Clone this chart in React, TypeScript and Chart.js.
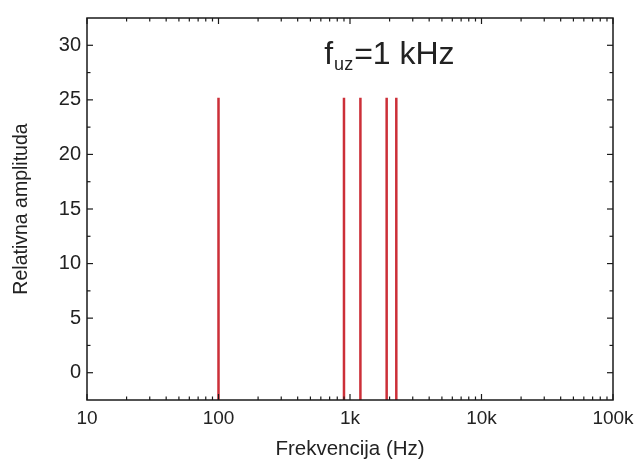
import React, { useEffect, useRef } from "react";
import { Chart, registerables } from "chart.js";

Chart.register(...registerables);

const frequencies = [100, 900, 1200, 1900, 2250];
const amplitudes = [25.2, 25.2, 25.2, 25.2, 25.2];
const baseline = -2.5;
const xTickValues = [10, 100, 1000, 10000, 100000];
const xTickLabels = ["10", "100", "1k", "10k", "100k"];
const yTickValues = [0, 5, 10, 15, 20, 25, 30];
const yMinorValues = [2.5, 7.5, 12.5, 17.5, 22.5, 27.5];
const xMinorMultipliers = [2, 3, 4, 5, 6, 7, 8, 9];
const annotationMain = "f";
const annotationSub = "uz";
const annotationRest = "=1 kHz";

const FONT = "'Liberation Sans', Arial, sans-serif";
const TEXT = "#222222";

const framePlugin = {
  id: "frame",
  afterDatasetsDraw(chart: any) {
    const { ctx, chartArea, scales } = chart;
    const { left, right, top, bottom } = chartArea;
    const x = scales.x;
    const y = scales.y;
    ctx.save();
    ctx.strokeStyle = "#1a1a1a";
    ctx.lineWidth = 1.5;
    ctx.strokeRect(left, top, right - left, bottom - top);
    ctx.lineWidth = 1.2;
    const tick = (x1: number, y1: number, x2: number, y2: number) => {
      ctx.beginPath();
      ctx.moveTo(x1, y1);
      ctx.lineTo(x2, y2);
      ctx.stroke();
    };
    const majorLen = 6;
    const minorLen = 3.5;
    xTickValues.forEach((v) => {
      const px = x.getPixelForValue(v);
      tick(px, bottom, px, bottom - majorLen);
      tick(px, top, px, top + majorLen);
    });
    for (let i = 0; i < xTickValues.length - 1; i++) {
      xMinorMultipliers.forEach((m) => {
        const px = x.getPixelForValue(xTickValues[i] * m);
        tick(px, bottom, px, bottom - minorLen);
        tick(px, top, px, top + minorLen);
      });
    }
    yTickValues.forEach((v) => {
      const py = y.getPixelForValue(v);
      tick(left, py, left + majorLen, py);
      tick(right, py, right - majorLen, py);
    });
    yMinorValues.forEach((v) => {
      const py = y.getPixelForValue(v);
      tick(left, py, left + minorLen, py);
      tick(right, py, right - minorLen, py);
    });

    // annotation
    ctx.fillStyle = TEXT;
    ctx.textBaseline = "alphabetic";
    ctx.textAlign = "left";
    let ax = left + (right - left) * 0.451;
    const ay = top + 46;
    ctx.font = `32px ${FONT}`;
    ctx.fillText(annotationMain, ax, ay);
    ax += ctx.measureText(annotationMain).width + 1;
    ctx.font = `18px ${FONT}`;
    ctx.fillText(annotationSub, ax, ay + 6);
    ax += ctx.measureText(annotationSub).width + 1;
    ctx.font = `32px ${FONT}`;
    ctx.fillText(annotationRest, ax, ay);
    ctx.restore();
  },
};

export default function App() {
  const canvasRef = useRef<HTMLCanvasElement | null>(null);

  useEffect(() => {
    if (!canvasRef.current) return;
    const points: any[] = [];
    frequencies.forEach((f, i) => {
      points.push({ x: f, y: baseline });
      points.push({ x: f, y: amplitudes[i] });
      points.push({ x: f, y: null });
    });

    const chart = new Chart(canvasRef.current, {
      type: "scatter",
      data: {
        datasets: [
          {
            data: points,
            showLine: true,
            spanGaps: false,
            borderColor: "#cc2f38",
            borderWidth: 2.5,
            pointRadius: 0,
            pointHoverRadius: 0,
          },
        ],
      },
      plugins: [framePlugin],
      options: {
        animation: false,
        responsive: true,
        maintainAspectRatio: false,
        layout: { padding: { top: 14, right: 29, left: 0, bottom: 0 } },
        plugins: {
          legend: { display: false },
          tooltip: { enabled: false },
        },
        scales: {
          x: {
            type: "logarithmic",
            min: 10,
            max: 100000,
            afterFit: (s: any) => {
              s.height = 62;
            },
            afterBuildTicks: (s: any) => {
              s.ticks = xTickValues.map((v) => ({ value: v }));
            },
            grid: { display: false, drawTicks: false },
            border: { display: false },
            ticks: {
              autoSkip: false,
              maxRotation: 0,
              padding: 7,
              color: TEXT,
              font: { family: FONT, size: 19 },
              callback: (v: any) => {
                const idx = xTickValues.indexOf(Number(v));
                return idx >= 0 ? xTickLabels[idx] : "";
              },
            },
            title: {
              display: true,
              text: "Frekvencija (Hz)",
              color: TEXT,
              font: { family: FONT, size: 20.5 },
              padding: { top: 0, bottom: 0 },
            },
          },
          y: {
            type: "linear",
            min: -2.5,
            max: 32.5,
            afterFit: (s: any) => {
              s.width = 87;
            },
            afterBuildTicks: (s: any) => {
              s.ticks = yTickValues.map((v) => ({ value: v }));
            },
            grid: { display: false, drawTicks: false },
            border: { display: false },
            ticks: {
              padding: 6,
              color: TEXT,
              font: { family: FONT, size: 20 },
              callback: (v: any) => String(v),
            },
            title: {
              display: true,
              text: "Relativna amplituda",
              color: TEXT,
              font: { family: FONT, size: 19.5 },
              padding: { top: 10, bottom: 0 },
            },
          },
        },
      },
    } as any);
    return () => chart.destroy();
  }, []);

  return (
    <div style={{ position: "fixed", left: 0, top: 0, width: 642, height: 462, background: "#fff" }}>
      <canvas ref={canvasRef} />
    </div>
  );
}
